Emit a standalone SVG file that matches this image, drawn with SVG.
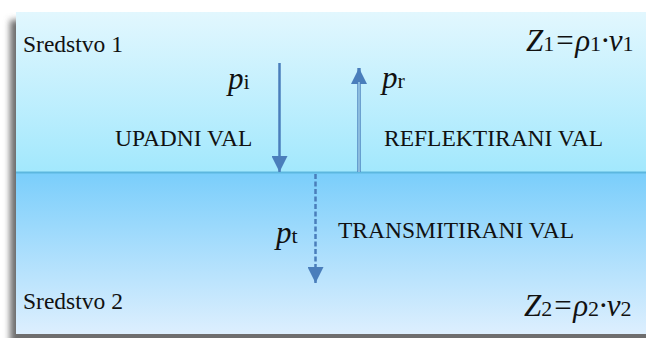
<svg xmlns="http://www.w3.org/2000/svg" width="646" height="338" viewBox="0 0 646 338">
  <defs>
    <linearGradient id="g1" x1="0" y1="0" x2="0" y2="1">
      <stop offset="0" stop-color="#e2f7fe"/>
      <stop offset="1" stop-color="#a2e8fd"/>
    </linearGradient>
    <linearGradient id="g2" x1="0" y1="0" x2="0" y2="1">
      <stop offset="0" stop-color="#7acefb"/>
      <stop offset="1" stop-color="#ddeffe"/>
    </linearGradient>
    <filter id="blur" x="-5%" y="-5%" width="110%" height="110%">
      <feGaussianBlur stdDeviation="3"/>
    </filter>
    <marker id="ah" viewBox="0 0 16 16" refX="16" refY="8" markerWidth="16" markerHeight="16" markerUnits="userSpaceOnUse" orient="auto">
      <path d="M0,0 L16,8 L0,16 Z" fill="#4a7ebb"/>
    </marker>
  </defs>
  <style>
    .lbl { font-size: 23.5px; fill: #111; }
    .it { font-style: italic; font-size: 31px; fill: #111; }
    .sub { font-style: normal; font-size: 22px; }
    .arrow { stroke: #4a7ebb; fill: none; }
  </style>
  <rect x="0" y="0" width="646" height="338" fill="#ffffff"/>
  <rect x="10" y="20" width="650" height="330" fill="#6e6e6e" filter="url(#blur)"/>
  <g id="medium1">
    <rect x="16" y="12" width="630" height="161" fill="url(#g1)"/>
    <text class="lbl" font-family="Liberation Serif" x="23" y="52">Sredstvo 1</text>
    <text class="it" font-family="Liberation Serif" x="526" y="51">Z<tspan class="sub">1</tspan>=ρ<tspan class="sub">1</tspan>·v<tspan class="sub">1</tspan></text>
  </g>
  <g id="medium2">
    <rect x="16" y="173" width="630" height="161" fill="url(#g2)"/>
    <text class="lbl" font-family="Liberation Serif" x="23" y="309">Sredstvo 2</text>
    <text class="it" font-family="Liberation Serif" x="524" y="316">Z<tspan class="sub">2</tspan>=ρ<tspan class="sub">2</tspan>·v<tspan class="sub">2</tspan></text>
  </g>
  <line id="interface" x1="16" y1="172.5" x2="646" y2="172.5" stroke="#5cb7df" stroke-width="2"/>
  <g id="connectors">
    <line class="arrow" x1="279.5" y1="63" x2="279.5" y2="172" stroke-width="2.5" marker-end="url(#ah)"/>
    <line class="arrow" x1="359" y1="172" x2="359" y2="68" stroke-width="3.4" marker-end="url(#ah)"/>
    <line x1="359" y1="172" x2="359" y2="82" stroke="#c2eefc" stroke-width="1.1"/>
    <line class="arrow" x1="315.5" y1="174" x2="315.5" y2="283" stroke-width="2.5" stroke-dasharray="5 2.5" marker-end="url(#ah)"/>
  </g>
  <g id="incident">
    <text class="it" font-family="Liberation Serif" x="228" y="89">p<tspan class="sub">i</tspan></text>
    <text class="lbl" font-family="Liberation Serif" x="115" y="146">UPADNI VAL</text>
  </g>
  <g id="reflected">
    <text class="it" font-family="Liberation Serif" x="382" y="88">p<tspan class="sub">r</tspan></text>
    <text class="lbl" font-family="Liberation Serif" x="384" y="146">REFLEKTIRANI VAL</text>
  </g>
  <g id="transmitted">
    <text class="it" font-family="Liberation Serif" x="276" y="243">p<tspan class="sub">t</tspan></text>
    <text class="lbl" font-family="Liberation Serif" x="338" y="238">TRANSMITIRANI VAL</text>
  </g>
</svg>
